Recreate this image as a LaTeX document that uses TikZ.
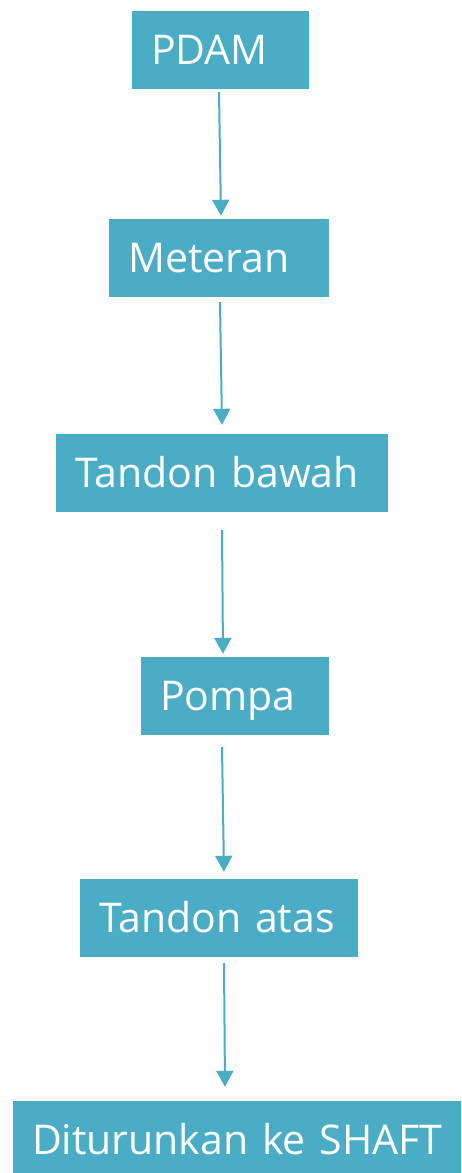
\documentclass[tikz,border=0pt]{standalone}
\usepackage{fontspec}
\setmainfont{Open Sans}
\usetikzlibrary{arrows.meta}
\definecolor{boxblue}{RGB}{75,172,198}
\newcommand{\boxtext}[1]{\makebox[\linewidth][l]{#1}}
\tikzset{
  flowbox/.style={fill=boxblue, text=white, minimum height=78pt, inner xsep=19pt, inner ysep=0pt,
    align=left, text height=29pt, text depth=0pt, font=\fontsize{41}{48}\selectfont},
  flowarrow/.style={draw=boxblue, line width=2pt, -{Triangle[width=17pt,length=16pt]}}
}
\begin{document}
\begin{tikzpicture}[x=1pt,y=-1pt]
\useasboundingbox (0,0) rectangle (461,1173);
\clip (0,0) rectangle (461,1173);
\node[flowbox, text width=139pt] (pdam) at (220.5,50) {\boxtext{PDAM}};
\node[flowbox, text width=182pt] (meteran) at (219,258) {\boxtext{Meteran}};
\node[flowbox, text width=294pt] (tbawah) at (222,473) {\boxtext{Tandon bawah}};
\node[flowbox, text width=150pt] (pompa) at (235,696) {\boxtext{Pompa}};
\node[flowbox, text width=240pt] (tatas) at (219,918) {\boxtext{Tandon atas}};
\node[flowbox, text width=410pt] (shaft) at (237,1140) {\boxtext{Diturunkan ke SHAFT}};
\draw[flowarrow] ([xshift=-1.5pt,yshift=-3pt]pdam.south) -- ([xshift=2pt,yshift=3pt]meteran.north);
\draw[flowarrow] ([xshift=1pt,yshift=-5pt]meteran.south) -- ([xshift=0pt,yshift=9pt]tbawah.north);
\draw[flowarrow] ([xshift=0pt,yshift=-18pt]tbawah.south) -- ([xshift=-12pt,yshift=3pt]pompa.north);
\draw[flowarrow] ([xshift=-13pt,yshift=-12pt]pompa.south) -- ([xshift=5pt,yshift=7pt]tatas.north);
\draw[flowarrow] ([xshift=5pt,yshift=-6pt]tatas.south) -- ([xshift=-12pt,yshift=14pt]shaft.north);
\end{tikzpicture}
\end{document}
